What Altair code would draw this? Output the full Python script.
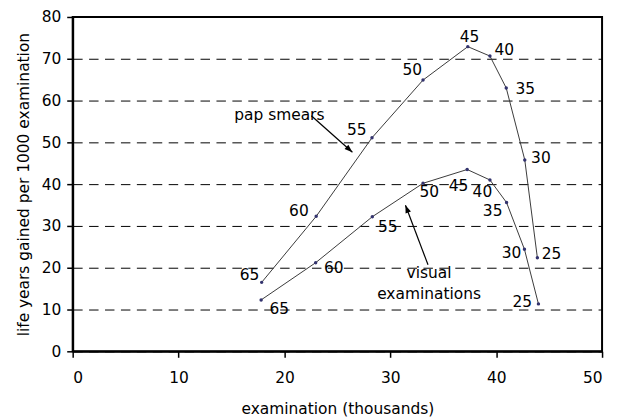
import math
import altair as alt
import pandas as pd

# ---------------- data ----------------
ages = [65, 60, 55, 50, 45, 40, 35, 30, 25]
pap_exams = [17.85, 23.0, 28.27, 33.09, 37.32, 39.41, 40.95, 42.70, 43.89]
pap_life = [16.5, 32.3, 51.1, 64.9, 72.9, 70.65, 63.0, 45.8, 22.4]
vis_exams = [17.8, 22.95, 28.3, 33.09, 37.26, 39.41, 40.98, 42.67, 43.99]
vis_life = [12.3, 21.2, 32.2, 40.2, 43.5, 41.0, 35.6, 24.4, 11.35]

x_ticks = [0, 10, 20, 30, 40, 50]
y_ticks = [0, 10, 20, 30, 40, 50, 60, 70, 80]

note_text = ["pap smears", "visual", "examinations"]
note_x = [19.52, 33.66, 33.66]
note_y = [55.4, 17.48, 12.6]

arrow_name = ["pap", "vis"]
arrow_x = [22.54, 33.56]
arrow_y = [56.37, 20.7]
arrow_x2 = [26.42, 31.43]
arrow_y2 = [47.64, 34.97]

# ---------------- layout / style ----------------
W, H = 532, 336
FONT = "DejaVu Sans"
FS = 15.5

rows = []
for i, a in enumerate(ages):
    rows.append({"series": "pap", "age": a, "order": i, "x": pap_exams[i], "y": pap_life[i]})
for i, a in enumerate(ages):
    rows.append({"series": "vis", "age": a, "order": i, "x": vis_exams[i], "y": vis_life[i]})
pts = pd.DataFrame(rows)

notes = pd.DataFrame({"text": note_text, "x": note_x, "y": note_y})

sx, sy = W / 50.0, H / 80.0
angles = []
for i in range(len(arrow_name)):
    dxp = (arrow_x2[i] - arrow_x[i]) * sx
    dyp = -(arrow_y2[i] - arrow_y[i]) * sy
    angles.append(math.degrees(math.atan2(dxp, -dyp)) % 360)
arrows = pd.DataFrame({"name": arrow_name, "x": arrow_x, "y": arrow_y,
                       "x2": arrow_x2, "y2": arrow_y2, "angle": angles})
heads = pd.DataFrame({"name": arrow_name, "x": arrow_x2, "y": arrow_y2, "angle": angles})

x_enc = alt.X("x:Q", scale=alt.Scale(domain=[0, 50], nice=False, zero=True),
              axis=alt.Axis(values=x_ticks, title="examination (thousands)", grid=False,
                            titleY=62, titleBaseline="alphabetic", labelPadding=13.5,
                            tickSize=6))
y_enc = alt.Y("y:Q", scale=alt.Scale(domain=[0, 80], nice=False, zero=True),
              axis=alt.Axis(values=y_ticks, title="life years gained per 1000 examination",
                            grid=True, gridDash=[9.5, 6.5], gridColor="black", gridWidth=1,
                            gridOpacity=1, titleX=-44.4, titleBaseline="alphabetic",
                            labelPadding=6, tickSize=6))

lines = alt.Chart(pts).mark_line(color="#3a3a3a", strokeWidth=1).encode(
    x=x_enc, y=y_enc, detail="series:N", order="order:Q")
dots = alt.Chart(pts).mark_circle(size=12, color="#33336e", opacity=1).encode(x=x_enc, y=y_enc)

offsets = {
    ("pap", 65): (-12.2, -8), ("pap", 60): (-17.4, -6.6), ("pap", 55): (-15.2, -8.5),
    ("pap", 50): (-10.8, -11.5), ("pap", 45): (1.7, -10.7), ("pap", 40): (14.4, -6.8),
    ("pap", 35): (19.1, -0.2), ("pap", 30): (16.2, -3), ("pap", 25): (14.2, -4.2),
    ("vis", 65): (18.2, 8), ("vis", 60): (18.2, 4.5), ("vis", 55): (15.5, 9.3),
    ("vis", 50): (6.3, 7.7), ("vis", 45): (-8.6, 15.2), ("vis", 40): (-7.6, 10.8),
    ("vis", 35): (-14, 7.2), ("vis", 30): (-13, 2.9), ("vis", 25): (-16.3, -2.8),
}
label_layers = []
for (s, a), (ddx, ddy) in offsets.items():
    label_layers.append(
        alt.Chart(pts).transform_filter(
            (alt.datum.series == s) & (alt.datum.age == a)
        ).mark_text(font=FONT, fontSize=FS, color="black", align="center",
                    baseline="middle", dx=ddx, dy=ddy + 1).encode(
            x=x_enc, y=y_enc, text="age:Q")
    )

note_layer = alt.Chart(notes).mark_text(font=FONT, fontSize=FS, color="black",
                                        align="center", baseline="alphabetic").encode(
    x=x_enc, y=y_enc, text="text:N")

arrow_lines = alt.Chart(arrows).mark_rule(color="black", strokeWidth=1.2).encode(
    x=x_enc, y=y_enc, x2="x2:Q", y2="y2:Q")
arrow_heads = alt.Chart(heads).mark_point(
    shape="M0,0L-0.36,1L0.36,1Z", filled=True, color="black", opacity=1, size=256,
    strokeWidth=0).encode(x=x_enc, y=y_enc, angle=alt.Angle("angle:Q", scale=None))

chart = alt.layer(lines, dots, *label_layers, note_layer, arrow_lines, arrow_heads).properties(
    width=W, height=H,
    autosize=alt.AutoSizeParams(type="none"),
    padding={"left": 65, "top": 8, "right": 12, "bottom": 66},
    background="white",
).configure_view(stroke="black", strokeWidth=2).configure_axis(
    domainColor="black", domainWidth=2, tickColor="black", tickWidth=1.5,
    labelColor="black", labelFont=FONT, labelFontSize=FS,
    titleColor="black", titleFont=FONT, titleFontSize=FS, titleFontWeight="normal",
)

chart.save("out.html", embed_options={"renderer": "svg", "actions": False})
